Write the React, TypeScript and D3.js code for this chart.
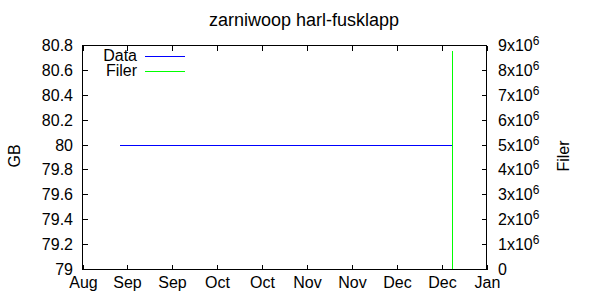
import React from "react";
import * as d3 from "d3";

const TITLE = "zarniwoop harl-fusklapp";
const Y_LABEL = "GB";
const Y2_LABEL = "Filer";

// x axis tick dates (gnuplot half-month spacing)
const xTickDates = [
  "2013-08-20T00:00:00Z",
  "2013-09-04T04:48:00Z",
  "2013-09-19T09:36:00Z",
  "2013-10-04T14:24:00Z",
  "2013-10-19T19:12:00Z",
  "2013-11-04T00:00:00Z",
  "2013-11-19T04:48:00Z",
  "2013-12-04T09:36:00Z",
  "2013-12-19T14:24:00Z",
  "2014-01-03T19:12:00Z",
];
const xTickLabels = ["Aug", "Sep", "Sep", "Oct", "Oct", "Nov", "Nov", "Dec", "Dec", "Jan"];

const yTicks = [79, 79.2, 79.4, 79.6, 79.8, 80, 80.2, 80.4, 80.6, 80.8];
const yTickLabels = ["79", "79.2", "79.4", "79.6", "79.8", "80", "80.2", "80.4", "80.6", "80.8"];
const y2Ticks = [0, 1e6, 2e6, 3e6, 4e6, 5e6, 6e6, 7e6, 8e6, 9e6];
const y2TickMantissa = ["0", "1", "2", "3", "4", "5", "6", "7", "8", "9"];

// Series: Data (GB)
const dataDates = ["2013-09-01T12:45:00Z", "2013-12-23T05:00:00Z"];
const dataValues = [80, 80];
// Series: Filer (count)
const filerDates = ["2013-09-01T12:45:00Z", "2013-12-23T05:00:00Z", "2013-12-23T05:00:00Z"];
const filerValues = [0, 0, 8780000];

const seriesNames = ["Data", "Filer"];
const seriesColors = ["#0000ff", "#00ff00"];

export default function App() {
  const W = 600, H = 300;
  const left = 82.5, right = 486.5, top = 45.5, bottom = 269.5;
  const font = "'Liberation Sans', Arial, Helvetica, sans-serif";
  const fs = 16;
  const tickLen = 5;

  const x = d3
    .scaleUtc()
    .domain([new Date(xTickDates[0]), new Date(xTickDates[xTickDates.length - 1])])
    .range([left, right]);
  const y = d3.scaleLinear().domain([79, 80.8]).range([bottom, top]);
  const y2 = d3.scaleLinear().domain([0, 9e6]).range([bottom, top]);

  const dataLine = d3
    .line<number>()
    .x((_, i) => x(new Date(dataDates[i])))
    .y((v) => Math.round(y(v) - 0.5) + 0.5);
  const filerLine = d3
    .line<number>()
    .x((_, i) => Math.round(x(new Date(filerDates[i]))) + 0.5)
    .y((v) => y2(v));

  return (
    <svg
      width={W}
      height={H}
      style={{ position: "absolute", left: 0, top: 0, background: "#fff" }}
      fontFamily={font}
      fontSize={fs}
    >
      <rect x={0} y={0} width={W} height={H} fill="#fff" />
      <text x={304} y={26} textAnchor="middle" fill="#000" fontSize={18}>
        {TITLE}
      </text>

      {/* series */}
      <path d={dataLine(dataValues) || ""} fill="none" stroke={seriesColors[0]} strokeWidth={1} shapeRendering="crispEdges" />
      <path d={filerLine(filerValues) || ""} fill="none" stroke={seriesColors[1]} strokeWidth={1} shapeRendering="crispEdges" />

      {/* border */}
      <rect x={left} y={top} width={right - left} height={bottom - top} fill="none" stroke="#000" strokeWidth={1} shapeRendering="crispEdges" />

      {/* x ticks */}
      {xTickDates.map((d, i) => {
        const xx = Math.round(x(new Date(d))) + 0.5;
        return (
          <g key={"x" + i}>
            <line x1={xx} x2={xx} y1={bottom} y2={bottom - tickLen} stroke="#000" shapeRendering="crispEdges" />
            <line x1={xx} x2={xx} y1={top} y2={top + tickLen} stroke="#000" shapeRendering="crispEdges" />
            <text x={xx} y={288} textAnchor="middle" fill="#000">
              {xTickLabels[i]}
            </text>
          </g>
        );
      })}

      {/* y ticks */}
      {yTicks.map((v, i) => {
        const yy = Math.round(y(v) - 0.5) + 0.5;
        return (
          <g key={"y" + i}>
            <line x1={left} x2={left + tickLen} y1={yy} y2={yy} stroke="#000" shapeRendering="crispEdges" />
            <text x={73} y={yy} dy="0.36em" textAnchor="end" fill="#000">
              {yTickLabels[i]}
            </text>
          </g>
        );
      })}

      {/* y2 ticks */}
      {y2Ticks.map((v, i) => {
        const yy = Math.round(y2(v) - 0.5) + 0.5;
        return (
          <g key={"y2" + i}>
            <line x1={right} x2={right - tickLen} y1={yy} y2={yy} stroke="#000" shapeRendering="crispEdges" />
            {v === 0 ? (
              <text x={498} y={yy} dy="0.36em" fill="#000">
                0
              </text>
            ) : (
              <text x={498} y={yy} dy="0.36em" fill="#000">
                {y2TickMantissa[i]}x10
                <tspan dy={-6} fontSize={12}>
                  6
                </tspan>
              </text>
            )}
          </g>
        );
      })}

      {/* axis titles */}
      <text transform="translate(20,156) rotate(-90)" textAnchor="middle" fill="#000">
        {Y_LABEL}
      </text>
      <text transform="translate(569,156) rotate(-90)" textAnchor="middle" fill="#000">
        {Y2_LABEL}
      </text>

      {/* legend */}
      {seriesNames.map((n, i) => {
        const ly = 56.5 + i * 15;
        return (
          <g key={"lg" + i}>
            <text x={137} y={ly + 4} textAnchor="end" fill="#000">
              {n}
            </text>
            <line x1={145} x2={185} y1={ly} y2={ly} stroke={seriesColors[i]} shapeRendering="crispEdges" />
          </g>
        );
      })}
    </svg>
  );
}
